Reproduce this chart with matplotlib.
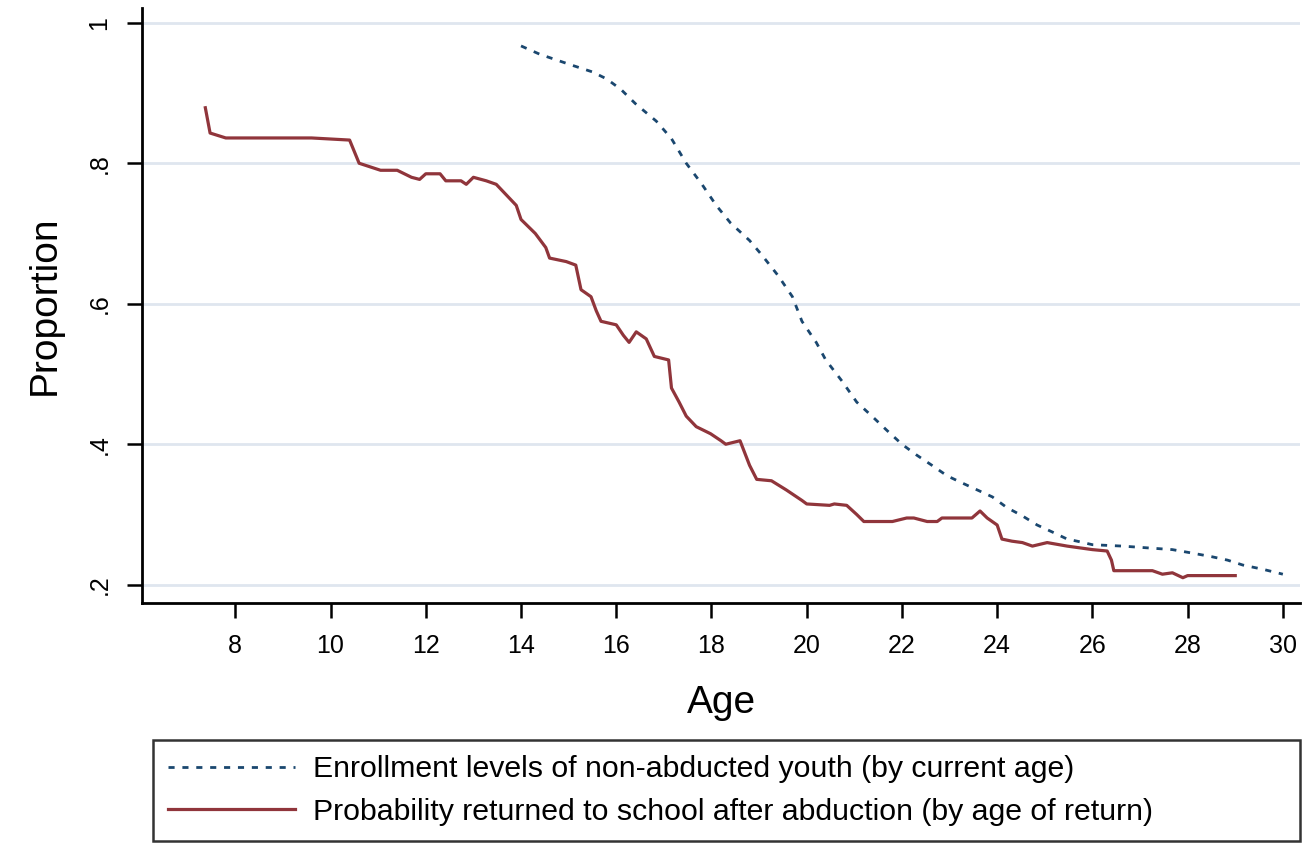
import matplotlib
matplotlib.use("Agg")
import matplotlib.pyplot as plt
from matplotlib import font_manager

# ---- data ----
age_enroll = [14.0, 14.4, 15.05, 15.5, 15.8, 16.1, 16.4, 16.84, 17.16, 17.47, 17.8, 18.1,
              18.4, 18.8, 19.05, 19.4, 19.7, 19.9, 20.2, 20.4, 20.74, 21.05, 21.37, 21.68,
              22.0, 22.3, 22.63, 22.95, 23.26, 23.58, 23.9, 24.2, 24.53, 24.84, 25.16,
              25.47, 25.68, 26.0, 26.63, 27.26, 27.68, 28.1, 28.5, 28.84, 29.16, 29.58, 30.0]
enroll = [0.967, 0.955, 0.940, 0.930, 0.920, 0.905, 0.885, 0.860, 0.835, 0.800, 0.770, 0.740,
          0.715, 0.690, 0.670, 0.640, 0.610, 0.575, 0.545, 0.520, 0.490, 0.460, 0.440, 0.420,
          0.400, 0.385, 0.370, 0.355, 0.345, 0.335, 0.325, 0.310, 0.298, 0.285, 0.275,
          0.265, 0.262, 0.257, 0.255, 0.252, 0.250, 0.245, 0.240, 0.235, 0.228, 0.222, 0.215]

age_return = [7.37, 7.47, 7.8, 9.6, 10.4, 10.6, 11.05, 11.4, 11.7, 11.87, 12.0, 12.3, 12.42,
              12.74, 12.85, 13.0, 13.27, 13.48, 13.69, 13.9, 14.0, 14.3, 14.52, 14.6, 14.95,
              15.15, 15.26, 15.47, 15.58, 15.68, 16.0, 16.15, 16.27, 16.42, 16.63, 16.8,
              17.1, 17.16, 17.32, 17.47, 17.68, 17.98, 18.2, 18.3, 18.6, 18.8, 18.95, 19.26,
              19.57, 19.9, 20.0, 20.48, 20.58, 20.84, 21.05, 21.2, 21.8, 22.1, 22.25, 22.53,
              22.74, 22.84, 23.47, 23.64, 23.79, 24.0, 24.1, 24.31, 24.53, 24.74, 25.05,
              25.47, 26.0, 26.31, 26.4, 26.45, 27.26, 27.47, 27.68, 27.9, 28.0, 29.0]
ret_prob = [0.879, 0.843, 0.836, 0.836, 0.833, 0.800, 0.790, 0.790, 0.780, 0.777, 0.785, 0.785,
            0.775, 0.775, 0.770, 0.780, 0.775, 0.770, 0.755, 0.740, 0.720, 0.700, 0.680, 0.665,
            0.660, 0.655, 0.620, 0.610, 0.590, 0.575, 0.570, 0.555, 0.545, 0.560, 0.550,
            0.525, 0.520, 0.480, 0.460, 0.440, 0.425, 0.415, 0.405, 0.400, 0.405, 0.370,
            0.350, 0.348, 0.335, 0.320, 0.315, 0.313, 0.315, 0.313, 0.300, 0.290, 0.290,
            0.295, 0.295, 0.290, 0.290, 0.295, 0.295, 0.305, 0.295, 0.285, 0.265, 0.262,
            0.260, 0.255, 0.260, 0.255, 0.250, 0.248, 0.235, 0.220, 0.220, 0.215, 0.217,
            0.210, 0.213, 0.213]

x_ticks = [8, 10, 12, 14, 16, 18, 20, 22, 24, 26, 28, 30]
y_ticks = [0.2, 0.4, 0.6, 0.8, 1.0]
y_ticklabels = [".2", ".4", ".6", ".8", "1"]

label_enroll = "Enrollment levels of non-abducted youth (by current age)"
label_return = "Probability returned to school after abduction (by age of return)"

# ---- style ----
names = {f.name for f in font_manager.fontManager.ttflist}
fam = "Liberation Sans Narrow" if "Liberation Sans Narrow" in names else "Liberation Sans"
plt.rcParams['font.family'] = [fam, 'DejaVu Sans']

W, H = 1302, 843
fig = plt.figure(figsize=(W / 100, H / 100), dpi=100)
ax = fig.add_axes([142 / W, 1 - 603 / H, (1300 - 142) / W, (603 - 8) / H])

navy = '#1a476f'
maroon = '#90353b'

l1, = ax.plot(age_enroll, enroll, color=navy, lw=2.0, ls=(0, (2.2, 2.8)))
l2, = ax.plot(age_return, ret_prob, color=maroon, lw=2.3)

ax.set_xlim(6.04, 30.36)
ax.set_ylim(0.174, 1.021)
ax.set_xticks(x_ticks)
ax.set_xticklabels([str(v) for v in x_ticks])
ax.set_yticks(y_ticks)
ax.set_yticklabels(y_ticklabels, rotation=90, va='center')

ax.grid(axis='y', color='#dfe6ef', lw=2)
ax.set_axisbelow(True)
for s in ['top', 'right']:
    ax.spines[s].set_visible(False)
for s in ['left', 'bottom']:
    ax.spines[s].set_linewidth(2)
    ax.spines[s].set_color('black')

ax.tick_params(axis='both', length=11, width=1.8, direction='out', labelsize=18, pad=11)
ax.set_xlabel("Age", fontsize=28, labelpad=20)
ax.set_ylabel("Proportion", fontsize=28, labelpad=18)

leg = fig.legend([l1, l2], [label_enroll, label_return],
                 loc='upper left',
                 bbox_to_anchor=(153 / W, 1 - 840 / H, (1300 - 153) / W, (840 - 740) / H),
                 bbox_transform=fig.transFigure,
                 mode='expand', fontsize=21.8, frameon=True, fancybox=False,
                 edgecolor='black', handlelength=4.2, handletextpad=0.6,
                 labelspacing=0.48, borderaxespad=0, borderpad=0.5)
leg.get_frame().set_linewidth(1.8)

fig.savefig("out.png", dpi=100)
